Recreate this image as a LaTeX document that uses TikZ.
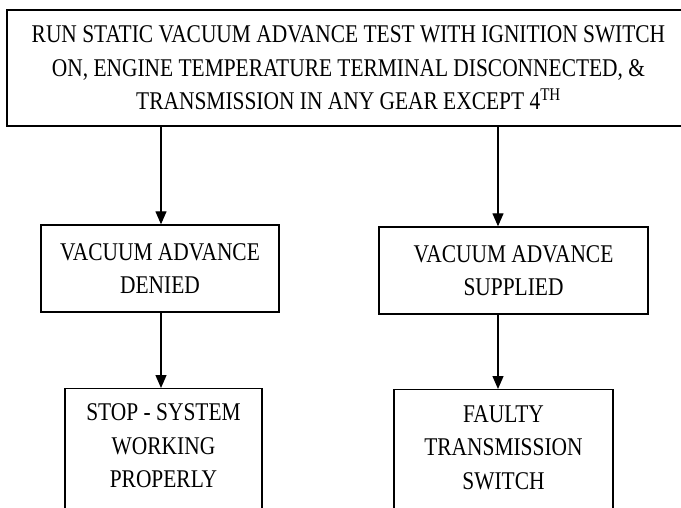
\documentclass[tikz,border=0pt]{standalone}
\usepackage{fontspec}
\setmainfont{Liberation Serif}[FakeStretch=0.84]
\usetikzlibrary{arrows.meta}
\begin{document}
\begin{tikzpicture}[x=1pt,y=-1pt,
  box/.style={draw=black, line width=1.4pt, rectangle, inner sep=0pt},
  txt/.style={align=center, font=\fontsize{25.5}{33.5}\selectfont, inner sep=0pt},
  arr/.style={line width=1.3pt, -{Triangle[length=13pt,width=11pt]}}]
\useasboundingbox (0,0) rectangle (681,508);
\fill[white] (0,0) rectangle (681,508);
% top box
\node[box, txt, minimum width=683pt, minimum height=116pt] (top) at (348.5,68)
  {RUN STATIC VACUUM ADVANCE TEST WITH IGNITION SWITCH\\ON, ENGINE TEMPERATURE TERMINAL DISCONNECTED, \&\\TRANSMISSION IN ANY GEAR EXCEPT 4\textsuperscript{TH}};
% middle boxes
\node[box, txt, minimum width=238pt, minimum height=87pt] (denied) at (160,268.5)
  {VACUUM ADVANCE\\DENIED};
\node[box, txt, minimum width=269pt, minimum height=87pt] (supplied) at (513.5,270.5)
  {VACUUM ADVANCE\\SUPPLIED};
% lower boxes (run past the bottom edge)
\node[box, minimum width=197pt, minimum height=160pt, anchor=north] (stop) at (163.5,388) {};
\node[txt] (stoptext) at (163.5,446) {STOP - SYSTEM\\WORKING\\PROPERLY};
\node[box, minimum width=219pt, minimum height=160pt, anchor=north] (faulty) at (503.5,389) {};
\node[txt] (faultytext) at (503.5,447.5) {FAULTY\\TRANSMISSION\\SWITCH};
% connector lines
\coordinate (lx) at (161,0);
\coordinate (rx) at (498,0);
\draw[arr] (top.south -| lx) -- (denied.north -| lx);
\draw[arr] (top.south -| rx) -- (supplied.north -| rx);
\draw[arr] (denied.south -| lx) -- (stop.north -| lx);
\draw[arr] (supplied.south -| rx) -- (faulty.north -| rx);
\end{tikzpicture}
\end{document}
